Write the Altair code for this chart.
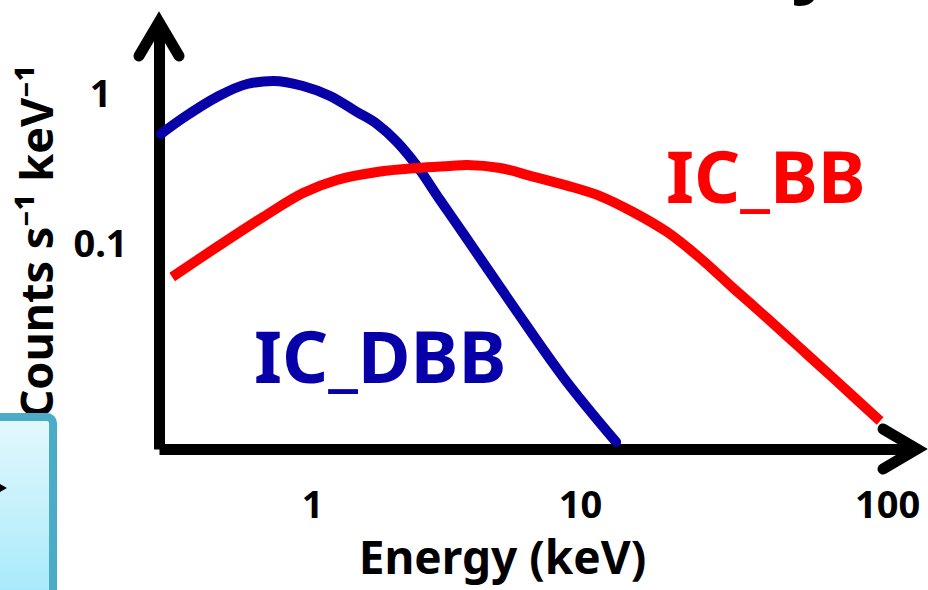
import altair as alt
import pandas as pd

# Inverse-Compton spectral shapes (energy in keV, counts s^-1 keV^-1)
dbb_energy = [0.286, 0.344, 0.455, 0.584, 0.724, 0.928, 1.161, 1.452, 1.713,
              2.022, 2.386, 2.886, 3.493, 5.284, 7.997, 12.41]
dbb_counts = [0.550, 0.703, 0.970, 1.184, 1.240, 1.148, 0.985, 0.770, 0.641,
              0.486, 0.336, 0.200, 0.120, 0.0392, 0.0132, 0.00486]

bb_energy = [0.314, 0.455, 0.667, 0.928, 1.230, 1.713, 2.386, 3.136, 3.610,
             4.746, 6.237, 8.268, 10.87, 14.28, 18.92, 24.87, 32.69, 43.32,
             56.94, 74.83, 110.5]
bb_counts = [0.0612, 0.0970, 0.1537, 0.2222, 0.2713, 0.3066, 0.3261, 0.3362,
             0.3415, 0.3261, 0.2860, 0.2490, 0.2121, 0.1660, 0.1221, 0.0819,
             0.0517, 0.0326, 0.0206, 0.0130, 0.00671]

# Curve labels
label_text = ["IC_DBB", "IC_BB"]
label_energy = [0.6185, 18.77]
label_counts = [0.01202, 0.1905]
label_color = ["#0700A8", "#FF0000"]

# Axis ticks
x_ticks = [1, 10, 100]
y_ticks = [0.1, 1]

x_domain = [0.2816, 150.0]
y_domain = [0.004365, 3.067]

FONT = "Noto Sans"
BLUE = "#0700A8"
RED = "#FF0000"
ARROW = "M-0.59,1L0,0L0.59,1"

dbb = pd.DataFrame({"energy": dbb_energy, "counts": dbb_counts})
bb = pd.DataFrame({"energy": bb_energy, "counts": bb_counts})
labels = pd.DataFrame({"text": label_text, "energy": label_energy,
                       "counts": label_counts, "color": label_color})

x_axis = alt.Axis(
    values=x_ticks, format="~g", grid=False, ticks=False, tickSize=0,
    domain=True, domainColor="black", domainWidth=11, domainCap="butt",
    labelFont=FONT, labelFontSize=38, labelFontWeight="bold", labelColor="black",
    labelPadding=68, labelBaseline="alphabetic", labelFlush=False,
    labelOffset={"condition": [{"test": "datum.value == 10", "value": -10},
                               {"test": "datum.value == 100", "value": 19}],
                 "value": 0},
    title="Energy (keV)", titleFont=FONT, titleFontSize=46, titleFontWeight="bold",
    titleColor="black", titleX=343, titleY=124, titleAlign="center",
    titleBaseline="alphabetic",
)
y_axis = alt.Axis(
    values=y_ticks, format="~g", grid=False, ticks=False, tickSize=0,
    domain=True, domainColor="black", domainWidth=11, domainCap="butt",
    labelFont=FONT, labelFontSize=38, labelFontWeight="bold", labelColor="black",
    labelPadding=59, labelAlign="center", labelBaseline="middle", labelFlush=False,
    title="Counts s⁻¹ keV⁻¹", titleFont=FONT, titleFontSize=45,
    titleFontWeight="bold", titleColor="black", titleAngle=270,
    titleX=-107, titleY=219, titleAlign="center", titleBaseline="alphabetic",
)

x_enc = alt.X("energy:Q", scale=alt.Scale(type="log", domain=x_domain, nice=False),
              axis=x_axis)
y_enc = alt.Y("counts:Q", scale=alt.Scale(type="log", domain=y_domain, nice=False),
              axis=y_axis)

dbb_line = alt.Chart(dbb).mark_line(
    color=BLUE, strokeWidth=10, strokeCap="round", interpolate="monotone"
).encode(x=x_enc, y=y_enc)

bb_line = alt.Chart(bb).mark_line(
    color=RED, strokeWidth=10, strokeCap="butt", interpolate="catmull-rom"
).encode(x="energy:Q", y="counts:Q")

curve_labels = alt.Chart(labels).mark_text(
    font=FONT, fontSize=72, fontWeight="bold", align="left", baseline="alphabetic"
).encode(
    x="energy:Q", y="counts:Q", text="text:N",
    color=alt.Color("color:N", scale=None),
)

one = pd.DataFrame({"k": [0]})

# Arrowheads on the ends of both axes
y_arrow = alt.Chart(one).mark_point(
    shape=ARROW, size=4624, filled=False, stroke="black", strokeWidth=11,
    strokeCap="round", strokeJoin="miter", opacity=1
).encode(x=alt.value(0), y=alt.value(0))

x_arrow = alt.Chart(one).mark_point(
    shape=ARROW, size=4624, filled=False, stroke="black", strokeWidth=11,
    strokeCap="round", strokeJoin="miter", opacity=1
).encode(x=alt.value(758), y=alt.value(427), angle=alt.value(90))

# Neighbouring slide elements
side_box = alt.Chart(one).mark_rect(
    stroke="#4AACC6", strokeWidth=8, cornerRadius=6,
    fill={"gradient": "linear", "x1": 0, "y1": 0, "x2": 0, "y2": 1,
          "stops": [{"offset": 0, "color": "#E4F8FD"},
                    {"offset": 1, "color": "#9FE8FA"}]},
).encode(x=alt.value(-179), x2=alt.value(-106), y=alt.value(395), y2=alt.value(598))

box_pointer = alt.Chart(one).mark_point(
    shape=ARROW, size=400, filled=False, stroke="black", strokeWidth=5,
    strokeCap="round", strokeJoin="miter", opacity=1
).encode(x=alt.value(-157), y=alt.value(466), angle=alt.value(90))

title_tail = alt.Chart(one).mark_text(
    text="y", font=FONT, fontSize=80, fontWeight="bold", color="black",
    align="center", baseline="bottom"
).encode(x=alt.value(655), y=alt.value(-18))

chart = alt.layer(
    side_box, box_pointer, title_tail, dbb_line, bb_line, curve_labels,
    y_arrow, x_arrow
).properties(
    width=758, height=427,
    padding={"left": 159, "top": 22, "right": 11, "bottom": 141},
    autosize=alt.AutoSizeParams(type="none"),
    background="white",
).configure_view(stroke=None)

chart.save("out.html", embed_options={"renderer": "svg", "actions": False})
